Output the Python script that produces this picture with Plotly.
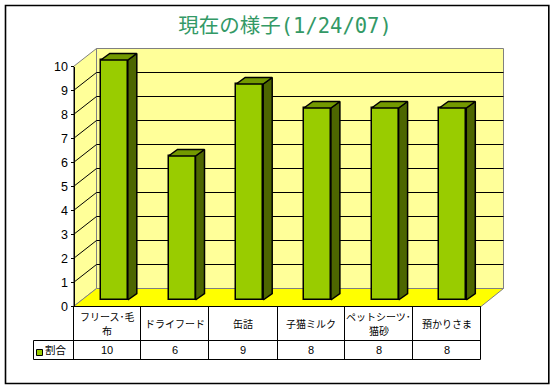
import plotly.graph_objects as go

categories = ["フリース･毛<br>布", "ドライフード", "缶詰", "子猫ミルク", "ペットシーツ･<br>猫砂", "預かりさま"]
values = [10, 6, 9, 8, 8, 8]
series_name = "割合"
y_ticks = list(range(0, 11))
title_text = "現在の様子(1/24/07)"

W, H = 556, 389
PX_X0, PX_DX = 114.3, 67.7      # first bar centre, spacing
PX_Y0, PX_DY = 300.0, 24.0      # bar baseline, pixels per unit
BAR_W = 27.0
DEPTH_X, DEPTH_Y = 9.0, 6.5

def ix(px):
    return (px - PX_X0) / PX_DX
def iy(py):
    return (PX_Y0 - py) / PX_DY

fig = go.Figure()

bw = BAR_W / PX_DX
dx, dy = DEPTH_X / PX_DX, DEPTH_Y / PX_DY
idx = list(range(len(values)))
fig.add_trace(go.Bar(x=idx, y=values, width=bw, marker=dict(color="#99CC00", line=dict(color="black", width=1.5)),
                     showlegend=False, hoverinfo="skip"))
side_x, side_y, top_x, top_y = [], [], [], []
for i, v in zip(idx, values):
    r, l = i + bw / 2, i - bw / 2
    side_x += [r, r + dx, r + dx, r, r, None]
    side_y += [0, dy, v + dy, v, 0, None]
    top_x += [l, l + dx, r + dx, r, l, None]
    top_y += [v, v + dy, v + dy, v, v, None]
fig.add_trace(go.Scatter(x=side_x, y=side_y, mode="lines", fill="toself", fillcolor="#4D6600",
                         line=dict(color="black", width=1.5), showlegend=False, hoverinfo="skip"))
fig.add_trace(go.Scatter(x=top_x, y=top_y, mode="lines", fill="toself", fillcolor="#739900",
                         line=dict(color="black", width=1.5), showlegend=False, hoverinfo="skip"))
fig.add_trace(go.Scatter(x=idx, y=values, yaxis="y2", mode="markers", marker=dict(opacity=0),
                         showlegend=False, hoverinfo="skip"))

FRONT_L, BACK_L, BACK_R, FRONT_R = 73.5, 96.5, 503.5, 481.0
FRONT_0, BACK_0, BACK_10, FRONT_10 = 306.5, 288.5, 48.5, 66.5
GREY = "#808080"
shapes = []
def poly(pts, fill=None, color=None, width=1, dash=None, layer="below"):
    path = "M" + " L".join(f"{ix(a):.5f},{iy(b):.5f}" for a, b in pts) + (" Z" if fill else "")
    line = dict(color=color or "rgba(0,0,0,0)", width=width)
    if dash:
        line["dash"] = dash
    shapes.append(dict(type="path", xref="x", yref="y", path=path, fillcolor=fill or "rgba(0,0,0,0)",
                       line=line, layer=layer))

poly([(BACK_L, BACK_10), (BACK_R, BACK_10), (BACK_R, BACK_0), (BACK_L, BACK_0)], fill="#FFFF99", color=GREY, width=1)
poly([(FRONT_L, FRONT_10), (BACK_L, BACK_10), (BACK_L, BACK_0), (FRONT_L, FRONT_0)], fill="#FFFF99", color=GREY, width=1)
poly([(FRONT_L, FRONT_0), (BACK_L, BACK_0), (BACK_R, BACK_0), (FRONT_R, FRONT_0)], fill="#FFFF00", color=GREY, width=1)
for t in y_ticks[1:-1]:
    yb, yf = BACK_0 - PX_DY * t, FRONT_0 - PX_DY * t
    poly([(FRONT_L, yf), (BACK_L, yb), (BACK_R, yb)], color="black", width=1)

T0, T1, T2 = 306.5, 340.5, 359.5
col_x = [73.5, 140.5, 208.5, 277.5, 344.5, 412.5, 480.5]
LEG_L = 33.5
def seg(a, b, c, d):
    shapes.append(dict(type="line", xref="x", yref="y", x0=ix(a), y0=iy(b), x1=ix(c), y1=iy(d),
                       line=dict(color="black", width=1), layer="above"))
seg(col_x[0], T0, col_x[-1], T0)
seg(LEG_L, T1, col_x[-1], T1)
seg(LEG_L, T2, col_x[-1], T2)
seg(LEG_L, T1, LEG_L, T2)
for c in col_x:
    seg(c, T0, c, T2)
shapes.append(dict(type="rect", xref="x", yref="y", x0=ix(36.5), x1=ix(42.5), y0=iy(349.5), y1=iy(355.5),
                   fillcolor="#99CC00", line=dict(color="black", width=1), layer="above"))
shapes.append(dict(type="rect", xref="paper", yref="paper", x0=5.5 / W, x1=548.8 / W, y0=1 - 383.5 / H, y1=1 - 5.5 / H,
                   line=dict(color="black", width=1.6), fillcolor="rgba(0,0,0,0)", layer="above"))

anns = []
CJK = "Noto Sans CJK JP"
LINE_GAP = 14
for i, cat in enumerate(categories):
    cx = ix((col_x[i] + col_x[i + 1]) / 2)
    lines = cat.split("<br>")
    for k, part in enumerate(lines):
        py = 322.5 + (k - (len(lines) - 1) / 2) * LINE_GAP
        anns.append(dict(x=cx, y=iy(py), text=part, showarrow=False, xref="x", yref="y",
                         font=dict(family=CJK, size=10, color="black"), align="center", height=12))
    anns.append(dict(x=cx, y=iy((T1 + T2) / 2), text=str(values[i]), showarrow=False, xref="x", yref="y",
                     font=dict(family="Liberation Sans", size=11, color="black")))
anns.append(dict(x=ix(55.5), y=iy(349.5), text=series_name, showarrow=False, xref="x", yref="y",
                 font=dict(family=CJK, size=10.5, color="black")))

fig.update_layout(
    width=W, height=H, margin=dict(l=0, r=0, t=0, b=0, pad=0), autosize=False,
    paper_bgcolor="white", plot_bgcolor="rgba(0,0,0,0)", bargap=0,
    annotations=anns,
    xaxis=dict(range=[ix(0), ix(W)], domain=[0, 1], visible=False, fixedrange=True, automargin=False),
    yaxis=dict(range=[iy(H), iy(0)], domain=[0, 1], visible=False, fixedrange=True, automargin=False),
    yaxis2=dict(range=[0, 10], anchor="free", position=FRONT_L / W, side="left", automargin=False,
                domain=[1 - FRONT_0 / H, 1 - FRONT_10 / H], tickmode="array", tickvals=y_ticks,
                ticks="outside", ticklen=3, tickcolor="black", tickwidth=1, showgrid=False, zeroline=False,
                showline=True, linecolor="black", linewidth=1, ticklabelstandoff=0,
                tickfont=dict(family="Liberation Sans", size=12.5, color="black"), fixedrange=True),
    shapes=shapes,
    title=dict(text=title_text, x=285 / W, y=1 - 26 / H, xanchor="center", yanchor="middle", automargin=False,
               font=dict(family="DejaVu Sans Mono, " + CJK, size=20.5, color="#339966")),
)
fig.write_html("out.html", config=dict(displayModeBar=False),
               post_script="document.body.style.margin='0';document.documentElement.style.overflow='hidden';")
